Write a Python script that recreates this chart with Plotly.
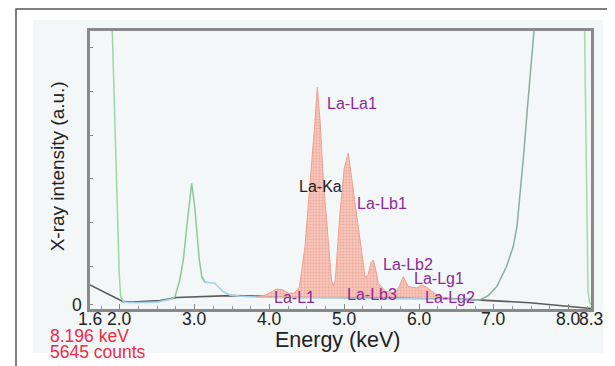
import plotly.graph_objects as go

# ---- data ----
tick_vals = [1.6, 2.0, 3.0, 4.0, 5.0, 6.0, 7.0, 8.0, 8.3]
tick_text = ["1.6", "2.0", "3.0", "4.0", "5.0", "6.0", "7.0", "8.0", "8.3"]

# La L-line fitted spectrum (red filled)
la_e = [3.83, 3.95, 4.03, 4.10, 4.18, 4.25, 4.33, 4.40, 4.475, 4.551, 4.60, 4.640, 4.68,
        4.720, 4.787, 4.83, 4.85, 4.88, 4.943, 5.00, 5.054, 5.09, 5.130, 5.188, 5.247,
        5.28, 5.32, 5.36, 5.388, 5.42, 5.456, 5.55, 5.68, 5.74, 5.79, 5.856, 5.97,
        6.035, 6.10, 6.236, 6.32, 6.45]
la_v = [3.0, 3.6, 4.8, 5.8, 5.5, 4.3, 4.2, 6.5, 21.3, 45.6, 64.0, 79.5, 66.0,
        45.6, 21.3, 9.0, 7.0, 9.0, 33.6, 50.0, 55.4, 48.0, 39.5, 27.4, 15.3,
        10.0, 11.0, 15.5, 16.4, 13.0, 7.9, 5.0, 4.3, 7.0, 10.3, 6.7, 6.2,
        7.3, 6.5, 3.65, 2.8, 2.3]
la_base = [3.0, 3.0, 3.0, 3.0, 3.0, 3.0, 3.0, 3.0, 3.0, 3.0, 3.0, 3.0, 3.0,
           3.0, 3.0, 3.0, 3.0, 3.0, 3.0, 3.0, 2.9, 2.9, 2.9, 2.9, 2.9,
           2.9, 2.9, 2.9, 2.9, 2.9, 2.9, 2.8, 2.7, 2.7, 2.6, 2.6, 2.5,
           2.5, 2.5, 2.4, 2.3, 2.3]

# background / continuum (dark line)
bg_e = [1.6, 2.045, 2.18, 2.536, 2.76, 3.0, 3.47, 3.9, 4.5, 5.5, 6.5, 6.815, 7.48, 8.02, 8.3]
bg_v = [7.3, 1.2, 1.0, 1.6, 2.7, 3.0, 3.4, 3.2, 3.1, 2.9, 2.2, 1.8, 0.8, -0.6, -1.3]

# measured spectrum, left part (green)
gl_e = [1.6, 1.85, 1.898, 1.93, 1.96, 1.99, 2.01, 2.05]
gl_v = [130, 120, 100, 70, 40, 12, 3.0, 1.0]
gp_e = [2.70, 2.737, 2.80, 2.848, 2.90, 2.96, 3.0, 3.027, 3.06, 3.094, 3.138]
gp_v = [2.2, 3.0, 9.0, 16.4, 30.0, 44.4, 36.0, 26.2, 17.0, 10.3, 8.3]

# measured spectrum, low part (light blue)
lb_e = [2.05, 2.2, 2.5, 2.70, None, 3.094, 3.138, 3.27, 3.38, 3.47, 3.6, 3.8, 4.0, 4.4,
        5.0, 5.6, 6.2, 6.6, 6.8]
lb_v = [1.0, 0.8, 1.0, 2.2, None, 10.3, 8.3, 7.9, 4.9, 3.65, 3.2, 2.9, 2.7, 2.6,
        2.5, 2.4, 2.2, 2.0, 1.8]

# measured spectrum, right part (grey-green)
gr_e = [6.6, 6.73, 6.815, 6.93, 7.04, 7.17, 7.26, 7.31, 7.345, 7.40, 7.45, 7.50, 7.555, 7.6]
gr_v = [2.0, 1.8, 1.8, 3.5, 6.7, 14.0, 21.3, 28.6, 38.0, 55.0, 72.0, 86.0, 100.0, 120.0]
grr_e = [8.2, 8.225, 8.24, 8.26, 8.28, 8.3]
grr_v = [130, 80, 30, 5.0, 1.0, 0.0]

# peak labels
lab_text = ["La-La1", "La-Ka", "La-Lb1", "La-Lb2", "La-Lg1", "La-L1", "La-Lb3", "La-Lg2"]
lab_e = [4.743, 4.368, 5.144, 5.498, 5.906, 4.034, 5.010, 6.053]
lab_v = [73.4, 43.4, 36.9, 14.6, 9.5, 2.6, 3.65, 2.6]
lab_col = ["#8b2a9a", "#222222", "#8b2a9a", "#8b2a9a", "#8b2a9a", "#8b2a9a", "#8b2a9a", "#8b2a9a"]

FONT = "Liberation Sans, Arial, sans-serif"

fig = go.Figure()

fig.add_trace(go.Scatter(x=bg_e, y=bg_v, mode="lines",
                         line=dict(color="#5a5a5a", width=1.6), hoverinfo="skip"))
fig.add_trace(go.Scatter(x=lb_e, y=lb_v, mode="lines",
                         line=dict(color="#a8d2e8", width=1.6), hoverinfo="skip"))
fig.add_trace(go.Scatter(x=gl_e, y=gl_v, mode="lines",
                         line=dict(color="#9ed6aa", width=1.5), hoverinfo="skip"))
fig.add_trace(go.Scatter(x=gp_e, y=gp_v, mode="lines",
                         line=dict(color="#8ec79c", width=1.5), hoverinfo="skip"))
fig.add_trace(go.Scatter(x=gr_e, y=gr_v, mode="lines",
                         line=dict(color="#8aaf9c", width=1.5), hoverinfo="skip"))
fig.add_trace(go.Scatter(x=grr_e, y=grr_v, mode="lines",
                         line=dict(color="#a6d8b0", width=1.5), hoverinfo="skip"))
fig.add_trace(go.Scatter(x=la_e, y=la_base, mode="lines",
                         line=dict(color="rgba(0,0,0,0)", width=0), hoverinfo="skip"))
fig.add_trace(go.Scatter(x=la_e, y=la_v, mode="lines", fill="tonexty",
                         fillcolor="#f6beb2",
                         fillpattern=dict(shape=".", bgcolor="#f7c6bb", fgcolor="#e58a7b",
                                          size=3, solidity=0.35),
                         line=dict(color="#eda090", width=1), hoverinfo="skip"))

for t, e, v, c in zip(lab_text, lab_e, lab_v, lab_col):
    fig.add_annotation(x=e, y=v, text=t, showarrow=False, xanchor="left", yanchor="middle",
                       font=dict(family=FONT, size=16, color=c))

# x tick labels and the y "0" label
for tv, tt in zip(tick_vals, tick_text):
    fig.add_annotation(x=tv, xref="x", yref="paper", y=-0.036, text=tt, showarrow=False,
                       xanchor="center", yanchor="middle",
                       font=dict(family=FONT, size=17.5, color="#222"))
fig.add_annotation(xref="paper", yref="y", x=-0.026, y=0, text="0", showarrow=False,
                   xanchor="center", yanchor="middle",
                   font=dict(family=FONT, size=17.5, color="#222"))

# axis titles and readout
fig.add_annotation(xref="paper", yref="paper", x=0.494, y=-0.111, text="Energy (keV)",
                   showarrow=False, xanchor="center", yanchor="middle",
                   font=dict(family=FONT, size=21.5, color="#222"))
fig.add_annotation(xref="paper", yref="paper", x=-0.066, y=0.513, text="X-ray intensity (a.u.)",
                   showarrow=False, textangle=-90, xanchor="center", yanchor="middle",
                   font=dict(family=FONT, size=19, color="#222"))
fig.add_annotation(xref="paper", yref="paper", x=-0.084, y=-0.097, text="8.196 keV",
                   showarrow=False, xanchor="left", yanchor="middle",
                   font=dict(family=FONT, size=17.5, color="#ee2a45"))
fig.add_annotation(xref="paper", yref="paper", x=-0.084, y=-0.155, text="5645 counts",
                   showarrow=False, xanchor="left", yanchor="middle",
                   font=dict(family=FONT, size=17.5, color="#ee2a45"))

# page body has an 8px margin, so the figure is 8px smaller and margins 8px less
fig.update_layout(
    width=607, height=358,
    margin=dict(l=82, r=24, t=23, b=57),
    paper_bgcolor="white", plot_bgcolor="#fdfefe",
    showlegend=False,
    font=dict(family=FONT, color="#222"),
    shapes=[
        dict(type="rect", xref="paper", yref="paper", x0=-0.1138, x1=1.024, y0=-0.158, y1=1.0396,
             fillcolor="#f4f7f8", line=dict(width=0), layer="below"),
        dict(type="path", xref="paper", yref="paper",
             path="M -0.1477 -0.3 L -0.1477 1.079 L 1.1 1.079",
             line=dict(color="#555555", width=1.5), layer="above"),
    ],
)
fig.update_xaxes(range=[1.6, 8.3], tickmode="array", tickvals=tick_vals,
                 showticklabels=False, ticks="inside", ticklen=5, tickcolor="#888",
                 minor=dict(tickmode="linear", tick0=0, dtick=0.25, ticks="inside",
                            ticklen=3, tickcolor="#999"),
                 showgrid=False, zeroline=False, showline=True, linecolor="#8a8a8a",
                 linewidth=2.5, mirror=True)
fig.update_yaxes(range=[-1.5, 100], tickmode="array",
                 tickvals=[0, 14, 30, 46, 62, 78, 94],
                 showticklabels=False, ticks="inside", ticklen=3, tickcolor="#888",
                 showgrid=False, zeroline=False, showline=True, linecolor="#8a8a8a",
                 linewidth=2.5, mirror=True)

fig.write_html("out.html")
